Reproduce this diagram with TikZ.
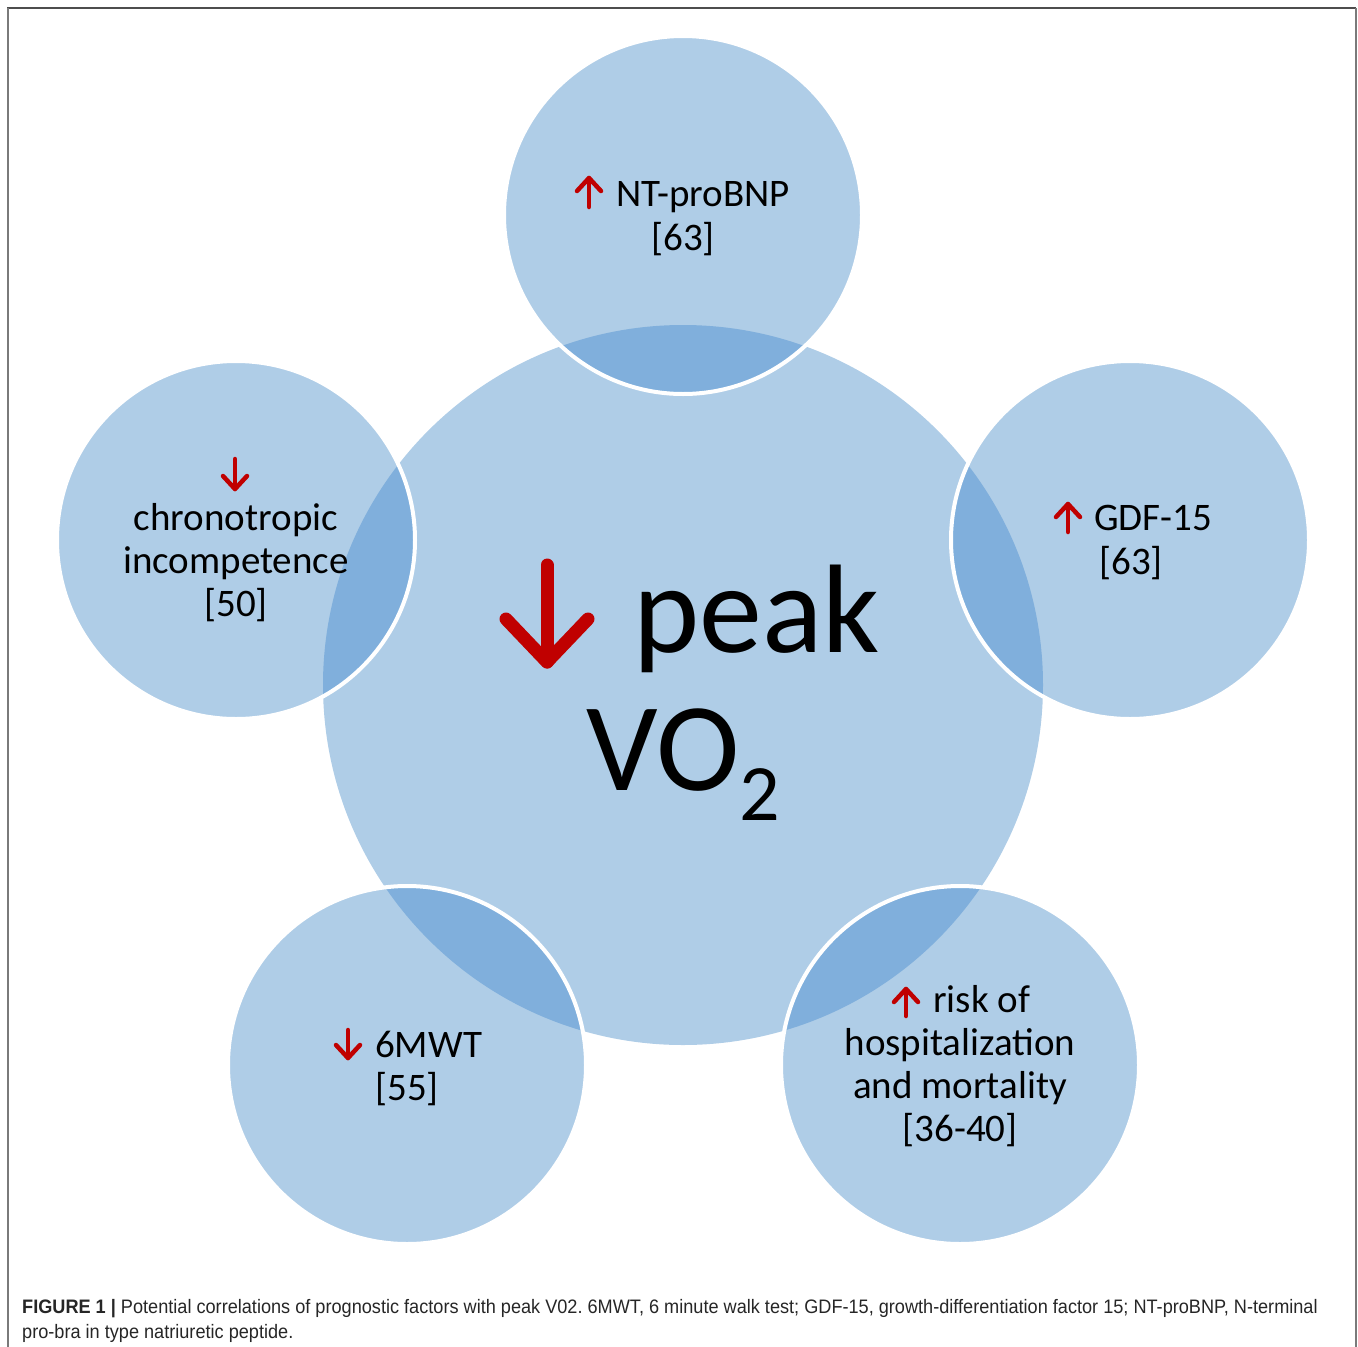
\documentclass[tikz,border=0pt]{standalone}
\usepackage{fontspec}
\setmainfont{Carlito}
\newfontfamily\capfont[FakeStretch=0.93]{Liberation Sans}
\frenchspacing
\definecolor{bubblefill}{HTML}{AFCDE7}
\definecolor{lensfill}{HTML}{80AFDC}
\definecolor{arrowred}{HTML}{C00000}
\definecolor{frametop}{HTML}{4D4D4D}
\definecolor{frameside}{HTML}{7A7A7A}
\begin{document}
\begin{tikzpicture}[x=1pt,y=-1pt,
  lbl/.style={font=\fontsize{39}{44}\selectfont, inner sep=0pt, anchor=base},
  lblw/.style={lbl, anchor=base west},
  bigtxt/.style={font=\fontsize{126}{138}\selectfont, inner sep=0pt, anchor=base west},
  redarr/.style={draw=arrowred, line width=4.5pt, line cap=round, line join=round},
  bigarr/.style={draw=arrowred, line width=13pt, line cap=round, line join=round},
  ring/.style={draw=white, line width=4pt},
  captxt/.style={font=\capfont\fontsize{19.5}{25}\selectfont, inner sep=0pt, anchor=base west, text=black!85}]
\useasboundingbox (0,0) rectangle (1358,1347);

% circle centres
\coordinate (cC) at (683,685);
\coordinate (cT) at (683,215);
\coordinate (cR) at (1130,540);
\coordinate (cL) at (236,540);
\coordinate (cBL) at (407,1065);
\coordinate (cBR) at (960,1065);

% frame
\draw[frametop, line width=2pt] (7,8) -- (1356,8);
\draw[frameside, line width=2pt] (7.5,8) -- (7.5,1347);
\draw[frameside, line width=2pt] (1355.5,8) -- (1355.5,1347);

% discs
\fill[bubblefill] (cC) circle[radius=360pt];
\foreach \c in {cT,cR,cL,cBL,cBR}
  \fill[bubblefill] (\c) circle[radius=179pt];
% overlap lenses
\begin{scope}
  \clip (cC) circle[radius=360pt];
  \foreach \c in {cT,cR,cL,cBL,cBR}
    \fill[lensfill] (\c) circle[radius=179pt];
\end{scope}
% white outlines of the outer discs
\foreach \c in {cT,cR,cL,cBL,cBR}
  \draw[ring] (\c) circle[radius=179pt];

% centre
\draw[bigarr] (547,565) -- (547,662);
\draw[bigarr] (506,619) -- (547,662) -- (588,619);
\node[bigtxt] (peak) at (633,652) {peak};
\node[bigtxt] (vo) at (586,790) {VO\raisebox{-30pt}{\fontsize{80}{80}\selectfont 2}};

% top
\draw[redarr] (589,178) -- (589,207);
\draw[redarr] (577,191) -- (589,178) -- (601,191);
\node[lblw] (ntp) at (616,206) {NT-proBNP};
\node[lbl] (ntpref) at (683,250) {[63]};

% right
\draw[redarr] (1068,504) -- (1068,532);
\draw[redarr] (1056,517) -- (1068,504) -- (1080,517);
\node[lblw] (gdf) at (1094,530) {GDF-15};
\node[lbl] (gdfref) at (1131,574) {[63]};

% left
\draw[redarr] (235,459) -- (235,489);
\draw[redarr] (223,476) -- (235,489) -- (247,476);
\node[lbl] (chr1) at (236,530) {chronotropic};
\node[lbl] (chr2) at (236,573) {incompetence};
\node[lbl] (chrref) at (236,616) {[50]};

% bottom left
\draw[redarr] (348,1030) -- (348,1058);
\draw[redarr] (336,1045) -- (348,1058) -- (360,1045);
\node[lblw] (mwt) at (375,1057) {6MWT};
\node[lbl] (mwtref) at (407,1100) {[55]};

% bottom right
\draw[redarr] (906,989) -- (906,1016);
\draw[redarr] (894,1002) -- (906,989) -- (918,1002);
\node[lblw] (risk1) at (933,1012) {risk of};
\node[lbl] (risk2) at (960,1055) {hospitalization};
\node[lbl] (risk3) at (960,1098) {and mortality};
\node[lbl] (riskref) at (960,1141) {[36-40]};

% caption
\node[captxt] (cap1) at (22,1313) {{\bfseries FIGURE 1 |} Potential correlations of prognostic factors with peak V02. 6MWT, 6 minute walk test; GDF-15, growth-differentiation factor 15; NT-proBNP, N-terminal};
\node[captxt] (cap2) at (22,1338) {pro-bra in type natriuretic peptide.};
\end{tikzpicture}
\end{document}
